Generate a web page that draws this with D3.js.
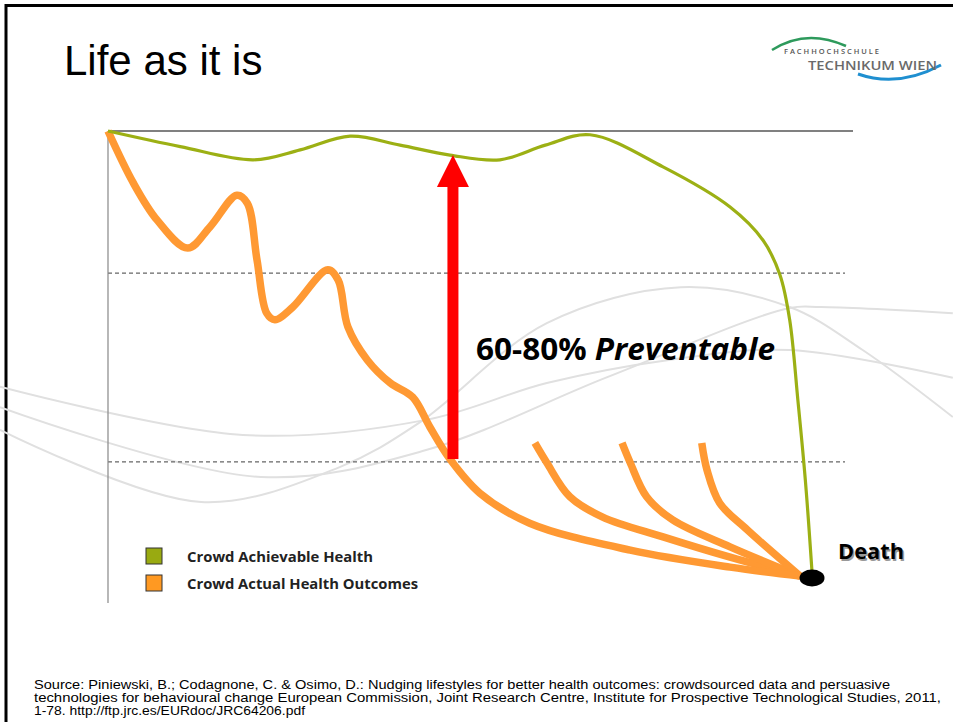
<!DOCTYPE html>
<meta charset="utf-8">
<style>
body { margin: 0; background: #fff; }
svg { display: block; }
</style>
<body>
<script src="https://cdn.jsdelivr.net/npm/d3@7/dist/d3.min.js"></script>
<script>
// chart values (x = life course 0..100, y = health 0..100)
var achievableX = [0, 9.7, 19.5, 25.8, 32.5, 39.2, 45.9, 52.6, 58.7, 64.7, 74.5, 83.5, 87.9, 90.2, 91.5, 92.6, 93.6, 94.5];
var achievableY = [100, 96.7, 93.9, 96.0, 98.9, 97.0, 94.9, 93.9, 97.0, 99.2, 92.4, 83.9, 76.9, 69.5, 60.0, 43.0, 26.1, 6.6];

var actualX = [0, 3.4, 6.6, 10.7, 13.7, 17.3, 18.7, 20.0, 21.3, 22.4, 24.8, 29.5, 30.9, 32.2, 34.8, 37.9, 40.9, 43.2, 45.9, 49.9, 56.6, 70.1, 83.5, 92.9];
var actualY = [100, 89.0, 81.1, 75.2, 79.7, 86.4, 84.7, 72.7, 61.4, 60.0, 62.7, 70.6, 68.4, 58.5, 51.5, 46.6, 43.6, 37.3, 30.5, 23.3, 16.9, 11.2, 7.6, 5.7];

// improved outcomes branching towards death
var branch1X = [57.3, 58.9, 62.0, 66.4, 74.5, 83.5, 92.9];
var branch1Y = [33.9, 29.7, 22.5, 18.2, 14.0, 9.7, 5.7];
var branch2X = [69.0, 70.1, 72.3, 75.8, 83.5, 92.9];
var branch2Y = [33.9, 29.7, 22.5, 17.6, 11.9, 5.7];
var branch3X = [79.7, 80.4, 82.1, 85.8, 92.9];
var branch3Y = [33.9, 28.2, 21.2, 15.5, 5.7];

var gridValues = [30, 70];
var deathPoint = [94.5, 5.3];
var gapX = 46.3, gapFrom = 30.5, gapTo = 94.9;

var legendLabels = ["Crowd Achievable Health", "Crowd Actual Health Outcomes"];

// decorative background waves
var waveA = [[-14.5,45.8],[18.1,35.6],[42.7,38.8],[58.9,46.6],[75.3,51.5],[91.5,53.6],[113.4,47.7]];
var waveB = [[-14.5,41.5],[20.5,26.7],[42.7,32.4],[67.1,47.9],[91.5,62.5],[95.7,62.7],[113.4,61.4]];
var waveC = [[-14.5,36.7],[12.5,21.4],[31.1,28.8],[41.7,38.1],[58.9,59.3],[76.9,66.9],[91.5,62.7],[101.3,53.6],[113.4,39.4]];

var W = 953, H = 722;
var svg = d3.select("body").append("svg").attr("width", W).attr("height", H);

var x = d3.scaleLinear().domain([0, 100]).range([108, 853]);
var y = d3.scaleLinear().domain([0, 100]).range([603, 131]);

var zip = function(xs, ys) { return xs.map(function(v, i) { return [v, ys[i]]; }); };
var line = d3.line().x(function(d) { return x(d[0]); }).y(function(d) { return y(d[1]); }).curve(d3.curveCatmullRom.alpha(0.5));

// slide frame
svg.append("path").attr("d", "M6,722V5.5H953").attr("fill", "none").attr("stroke", "#000").attr("stroke-width", 3);

// background waves
svg.selectAll(".wave").data([waveA, waveB, waveC]).enter().append("path")
    .attr("d", line)
    .attr("fill", "none").attr("stroke", "#e0e0e0").attr("stroke-width", 2);

// title
svg.append("text").attr("x", 64).attr("y", 75)
    .style("font-family", "'Liberation Sans', Arial, sans-serif").style("font-size", "42px")
    .text("Life as it is");

// logo
var logo = svg.append("g");
logo.append("path").attr("d", "M772,50 Q806,28 846,46").attr("fill", "none").attr("stroke", "#2e9a5c").attr("stroke-width", 2.5);
logo.append("path").attr("d", "M858,74 Q898,88 941,65").attr("fill", "none").attr("stroke", "#1f8fd0").attr("stroke-width", 3);
logo.append("text").attr("x", 784).attr("y", 54).style("font-family", "'Open Sans', sans-serif")
    .style("font-size", "7.5px").style("font-weight", "600").attr("fill", "#555")
    .attr("textLength", 95).text("FACHHOCHSCHULE");
logo.append("text").attr("x", 808).attr("y", 70).style("font-family", "'Open Sans', sans-serif")
    .style("font-size", "12.5px").style("font-weight", "600").attr("fill", "#6a6a6a")
    .attr("textLength", 129).attr("lengthAdjust", "spacingAndGlyphs").text("TECHNIKUM WIEN");

// gridlines
svg.append("g").attr("transform", "translate(" + x(0) + ",0)")
    .call(d3.axisLeft(y).tickValues(gridValues).tickSize(-(845 - 108)).tickFormat(""))
    .call(function(g) { g.select(".domain").remove(); })
    .selectAll("line").attr("stroke", "#666").attr("stroke-dasharray", "4,3").attr("stroke-width", 1.2);

// axis frame
svg.append("line").attr("x1", x(0)).attr("x2", x(0)).attr("y1", y(100)).attr("y2", y(0))
    .attr("stroke", "#888").attr("stroke-width", 1.2);
svg.append("line").attr("x1", x(0)).attr("x2", x(100)).attr("y1", y(100)).attr("y2", y(100))
    .attr("stroke", "#808080").attr("stroke-width", 2);

// orange branches and actual outcomes
[zip(branch1X, branch1Y), zip(branch2X, branch2Y), zip(branch3X, branch3Y), zip(actualX, actualY)].forEach(function(d) {
  svg.append("path").datum(d).attr("d", line).attr("fill", "none")
    .attr("stroke", "#ff9933").attr("stroke-width", 7.5);
});

// achievable health
svg.append("path").datum(zip(achievableX, achievableY)).attr("d", line).attr("fill", "none")
    .attr("stroke", "#9cb014").attr("stroke-width", 3.2);

// red arrow
var ax = x(gapX), ay0 = y(gapFrom), ay1 = y(gapTo);
svg.append("rect").attr("x", ax - 5.5).attr("y", ay1 + 30).attr("width", 11).attr("height", ay0 - ay1 - 30).attr("fill", "#ff0000");
svg.append("path").attr("d", "M" + (ax - 16) + "," + (ay1 + 32) + "L" + ax + "," + ay1 + "L" + (ax + 16) + "," + (ay1 + 32) + "Z").attr("fill", "#ff0000");

var lbl = svg.append("text").attr("x", 476).attr("y", 360)
    .style("font-family", "'Open Sans', sans-serif").style("font-size", "30px").style("font-weight", "700")
    .attr("textLength", 299).attr("lengthAdjust", "spacingAndGlyphs").attr("fill", "#000");
lbl.append("tspan").text("60-80% ");
lbl.append("tspan").style("font-style", "italic").text("Preventable");

// death
svg.append("ellipse").attr("cx", x(deathPoint[0])).attr("cy", y(deathPoint[1])).attr("rx", 12.5).attr("ry", 8.5).attr("fill", "#000");
[["#999", 1.5], ["#000", 0]].forEach(function(s) {
  svg.append("text").attr("x", 838 + s[1]).attr("y", 559 + s[1])
    .style("font-family", "'Open Sans', sans-serif").style("font-size", "22px").style("font-weight", "700")
    .attr("textLength", 66).attr("lengthAdjust", "spacingAndGlyphs").attr("fill", s[0]).text("Death");
});

// legend
var legColors = ["#99aa11", "#ff9922"];
var legWidths = [186, 231];
var leg = svg.selectAll(".leg").data(legendLabels).enter().append("g")
    .attr("transform", function(d, i) { return "translate(146," + (548 + i * 27) + ")"; });
leg.append("rect").attr("width", 16).attr("height", 16).attr("fill", function(d, i) { return legColors[i]; })
    .attr("stroke", "#333").attr("stroke-width", 1);
leg.append("text").attr("x", 41).attr("y", 14)
    .style("font-family", "'Open Sans', sans-serif").style("font-size", "15px").style("font-weight", "700")
    .attr("textLength", function(d, i) { return legWidths[i]; }).attr("lengthAdjust", "spacingAndGlyphs")
    .attr("fill", "#222").text(function(d) { return d; });

// source
var src = [
  ["Source: Piniewski, B.; Codagnone, C. & Osimo, D.: Nudging lifestyles for better health outcomes: crowdsourced data and persuasive", 856],
  ["technologies for behavioural change European Commission, Joint Research Centre, Institute for Prospective Technological Studies, 2011,", 907],
  ["1-78. http://ftp.jrc.es/EURdoc/JRC64206.pdf", 271]
];
svg.selectAll(".src").data(src).enter().append("text")
    .attr("x", 34).attr("y", function(d, i) { return 689 + i * 13; })
    .attr("textLength", function(d) { return d[1]; }).attr("lengthAdjust", "spacingAndGlyphs")
    .style("font-family", "'Liberation Sans', Arial, sans-serif").style("font-size", "12px")
    .text(function(d) { return d[0]; });
</script>
</body>
